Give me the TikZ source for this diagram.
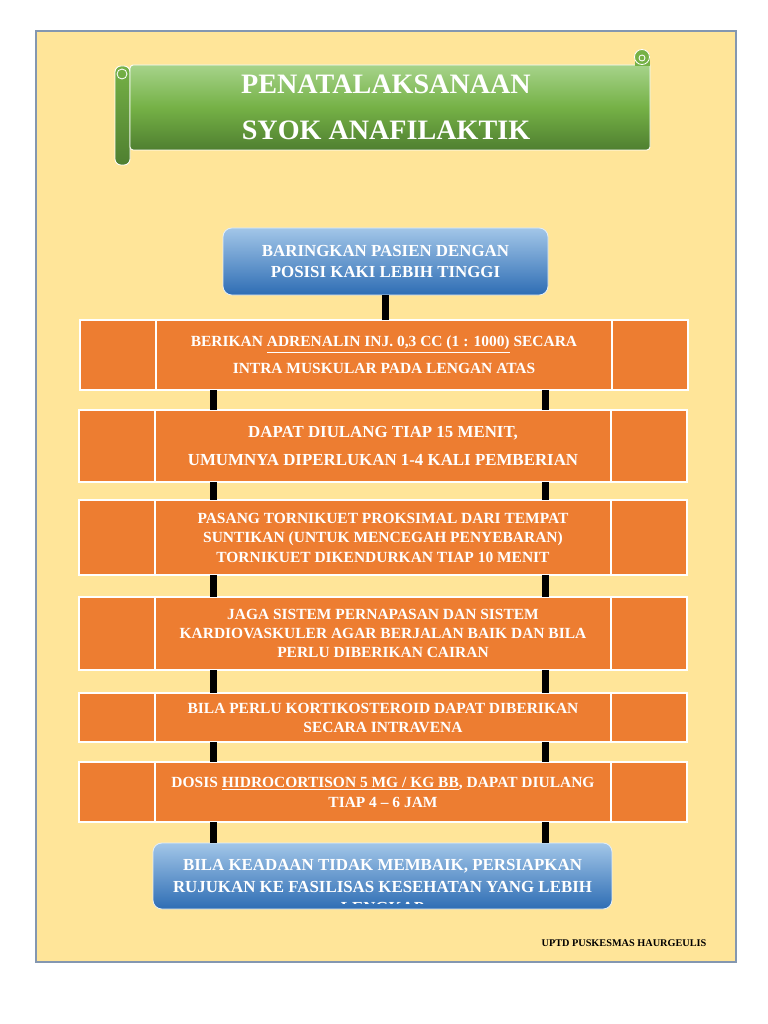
\documentclass[tikz,border=0pt]{standalone}
\usepackage{fontspec}
\setmainfont{Liberation Serif}
\usepackage{tikz}
\usetikzlibrary{positioning}
\definecolor{panel}{HTML}{FFE599}
\definecolor{panelline}{HTML}{8497B0}
\definecolor{oranj}{HTML}{ED7D31}
\definecolor{bluetop}{HTML}{A2C6E8}
\definecolor{bluebot}{HTML}{2E6DB4}
\definecolor{greentop}{HTML}{A6D38A}
\definecolor{greenmid}{HTML}{75B146}
\definecolor{greenbot}{HTML}{4F7F30}

\begin{document}
\begin{tikzpicture}[x=0.025cm,y=-0.025cm,
    mid/.style={draw=white,line width=1pt,fill=oranj,text=white,font=\bfseries,minimum width=456*0.025cm,align=center,inner sep=0pt,outer sep=0pt},
    side/.style={draw=white,line width=1pt,fill=oranj,minimum width=76*0.025cm,inner sep=0pt,outer sep=0pt},
    row/.style={minimum height=#1*0.025cm},
    bluebox/.style={draw=white!70!bluetop,line width=0.6pt,rounded corners=0.22cm,top color=bluetop,bottom color=bluebot,text=white,font=\bfseries,align=center,inner sep=0pt},
    bar/.style={line width=0.175cm,black}]
    \useasboundingbox (0,0) rectangle (768,1024);
    \fill[white] (0,0) rectangle (768,1024);
    \draw[panelline,fill=panel,line width=1.1pt] (36,31) rectangle (736,962);

    \shadedraw[draw=white,line width=0.6pt,rounded corners=0.15cm,top color=greenmid,bottom color=greenbot] (115,66) rectangle (130,165);
    \shadedraw[draw=white,line width=0.6pt,top color=greentop,bottom color=greenbot,middle color=greenmid] (130,65) -- (650,65) -- (650,147) [rounded corners=0.08cm] -- (650,150) -- (130,150) -- cycle;
    \fill[greenmid] (635,55) rectangle (650,66);
    \draw[white,fill=greenmid,line width=0.6pt] (642,57) circle (7.5);
    \draw[white,line width=0.6pt] (642,58) circle (3);
    \draw[white,line width=0.6pt] (122,74) circle (5);
    \node[text=white,font=\bfseries\fontsize{20}{32.7}\selectfont,align=center,inner sep=0pt] (T) at (386,107) {PENATALAKSANAAN\\SYOK ANAFILAKTIK};

    \node[bluebox,minimum width=325*0.025cm,minimum height=67*0.025cm,font=\bfseries\fontsize{12}{15.6}\selectfont] (B1) at (385.5,261.5) {BARINGKAN PASIEN DENGAN\\POSISI KAKI LEBIH TINGGI};

    \node[mid,row=70,font=\bfseries\fontsize{11}{19.2}\selectfont] (R1) at (384,355) {BERIKAN \underline{ADRENALIN INJ. 0,3 CC (1 : 1000)} SECARA\\INTRA MUSKULAR PADA LENGAN ATAS};
    \node[side,row=70,anchor=east] (R1L) at (R1.west) {};
    \node[side,row=70,anchor=west] (R1R) at (R1.east) {};

    \node[mid,row=72,font=\bfseries\fontsize{12}{20.6}\selectfont] (R2) at (383,446) {DAPAT DIULANG TIAP 15 MENIT,\\UMUMNYA DIPERLUKAN 1-4 KALI PEMBERIAN};
    \node[side,row=72,anchor=east] (R2L) at (R2.west) {};
    \node[side,row=72,anchor=west] (R2R) at (R2.east) {};

    \node[mid,row=75,font=\bfseries\fontsize{11}{13.9}\selectfont] (R3) at (383,537.5) {PASANG TORNIKUET PROKSIMAL DARI TEMPAT\\SUNTIKAN (UNTUK MENCEGAH PENYEBARAN)\\TORNIKUET DIKENDURKAN TIAP 10 MENIT};
    \node[side,row=75,anchor=east] (R3L) at (R3.west) {};
    \node[side,row=75,anchor=west] (R3R) at (R3.east) {};

    \node[mid,row=73,font=\bfseries\fontsize{11}{13.7}\selectfont] (R4) at (383,633.5) {JAGA SISTEM PERNAPASAN DAN SISTEM\\KARDIOVASKULER AGAR BERJALAN BAIK DAN BILA\\PERLU DIBERIKAN CAIRAN};
    \node[side,row=73,anchor=east] (R4L) at (R4.west) {};
    \node[side,row=73,anchor=west] (R4R) at (R4.east) {};

    \node[mid,row=49,font=\bfseries\fontsize{11}{13.5}\selectfont] (R5) at (383,717.5) {BILA PERLU KORTIKOSTEROID DAPAT DIBERIKAN\\SECARA INTRAVENA};
    \node[side,row=49,anchor=east] (R5L) at (R5.west) {};
    \node[side,row=49,anchor=west] (R5R) at (R5.east) {};

    \node[mid,row=60,font=\bfseries\fontsize{11}{14.2}\selectfont] (R6) at (383,792) {DOSIS \underline{HIDROCORTISON 5 MG / KG BB}, DAPAT DIULANG\\TIAP 4 -- 6 JAM};
    \node[side,row=60,anchor=east] (R6L) at (R6.west) {};
    \node[side,row=60,anchor=west] (R6R) at (R6.east) {};

    \node[bluebox,minimum width=459*0.025cm,minimum height=66*0.025cm] (B2) at (382.5,876) {};
    \begin{scope}
        \clip (B2.north west) rectangle ([yshift=0.16cm]B2.south east);
        \node[text=white,font=\bfseries\fontsize{12}{15}\selectfont,align=center,inner sep=0pt,anchor=north] (B2T) at (382.5,859.5) {BILA KEADAAN TIDAK MEMBAIK, PERSIAPKAN\\RUJUKAN KE FASILISAS KESEHATAN YANG LEBIH\\LENGKAP};
    \end{scope}

    \coordinate (barL) at (213,0);
    \coordinate (barR) at (545,0);
    \draw[bar] (R1.north -| B1.south) -- (B1.south);
    \draw[bar] (R1.south -| barL) -- (R2.north -| barL);
    \draw[bar] (R1.south -| barR) -- (R2.north -| barR);
    \draw[bar] (R2.south -| barL) -- (R3.north -| barL);
    \draw[bar] (R2.south -| barR) -- (R3.north -| barR);
    \draw[bar] (R3.south -| barL) -- (R4.north -| barL);
    \draw[bar] (R3.south -| barR) -- (R4.north -| barR);
    \draw[bar] (R4.south -| barL) -- (R5.north -| barL);
    \draw[bar] (R4.south -| barR) -- (R5.north -| barR);
    \draw[bar] (R5.south -| barL) -- (R6.north -| barL);
    \draw[bar] (R5.south -| barR) -- (R6.north -| barR);
    \draw[bar] (R6.south -| barL) -- (B2.north -| barL);
    \draw[bar] (R6.south -| barR) -- (B2.north -| barR);

    \node[font=\bfseries\fontsize{7.3}{9}\selectfont,inner sep=0pt] (F) at (624,943) {UPTD PUSKESMAS HAURGEULIS};
\end{tikzpicture}
\end{document}
